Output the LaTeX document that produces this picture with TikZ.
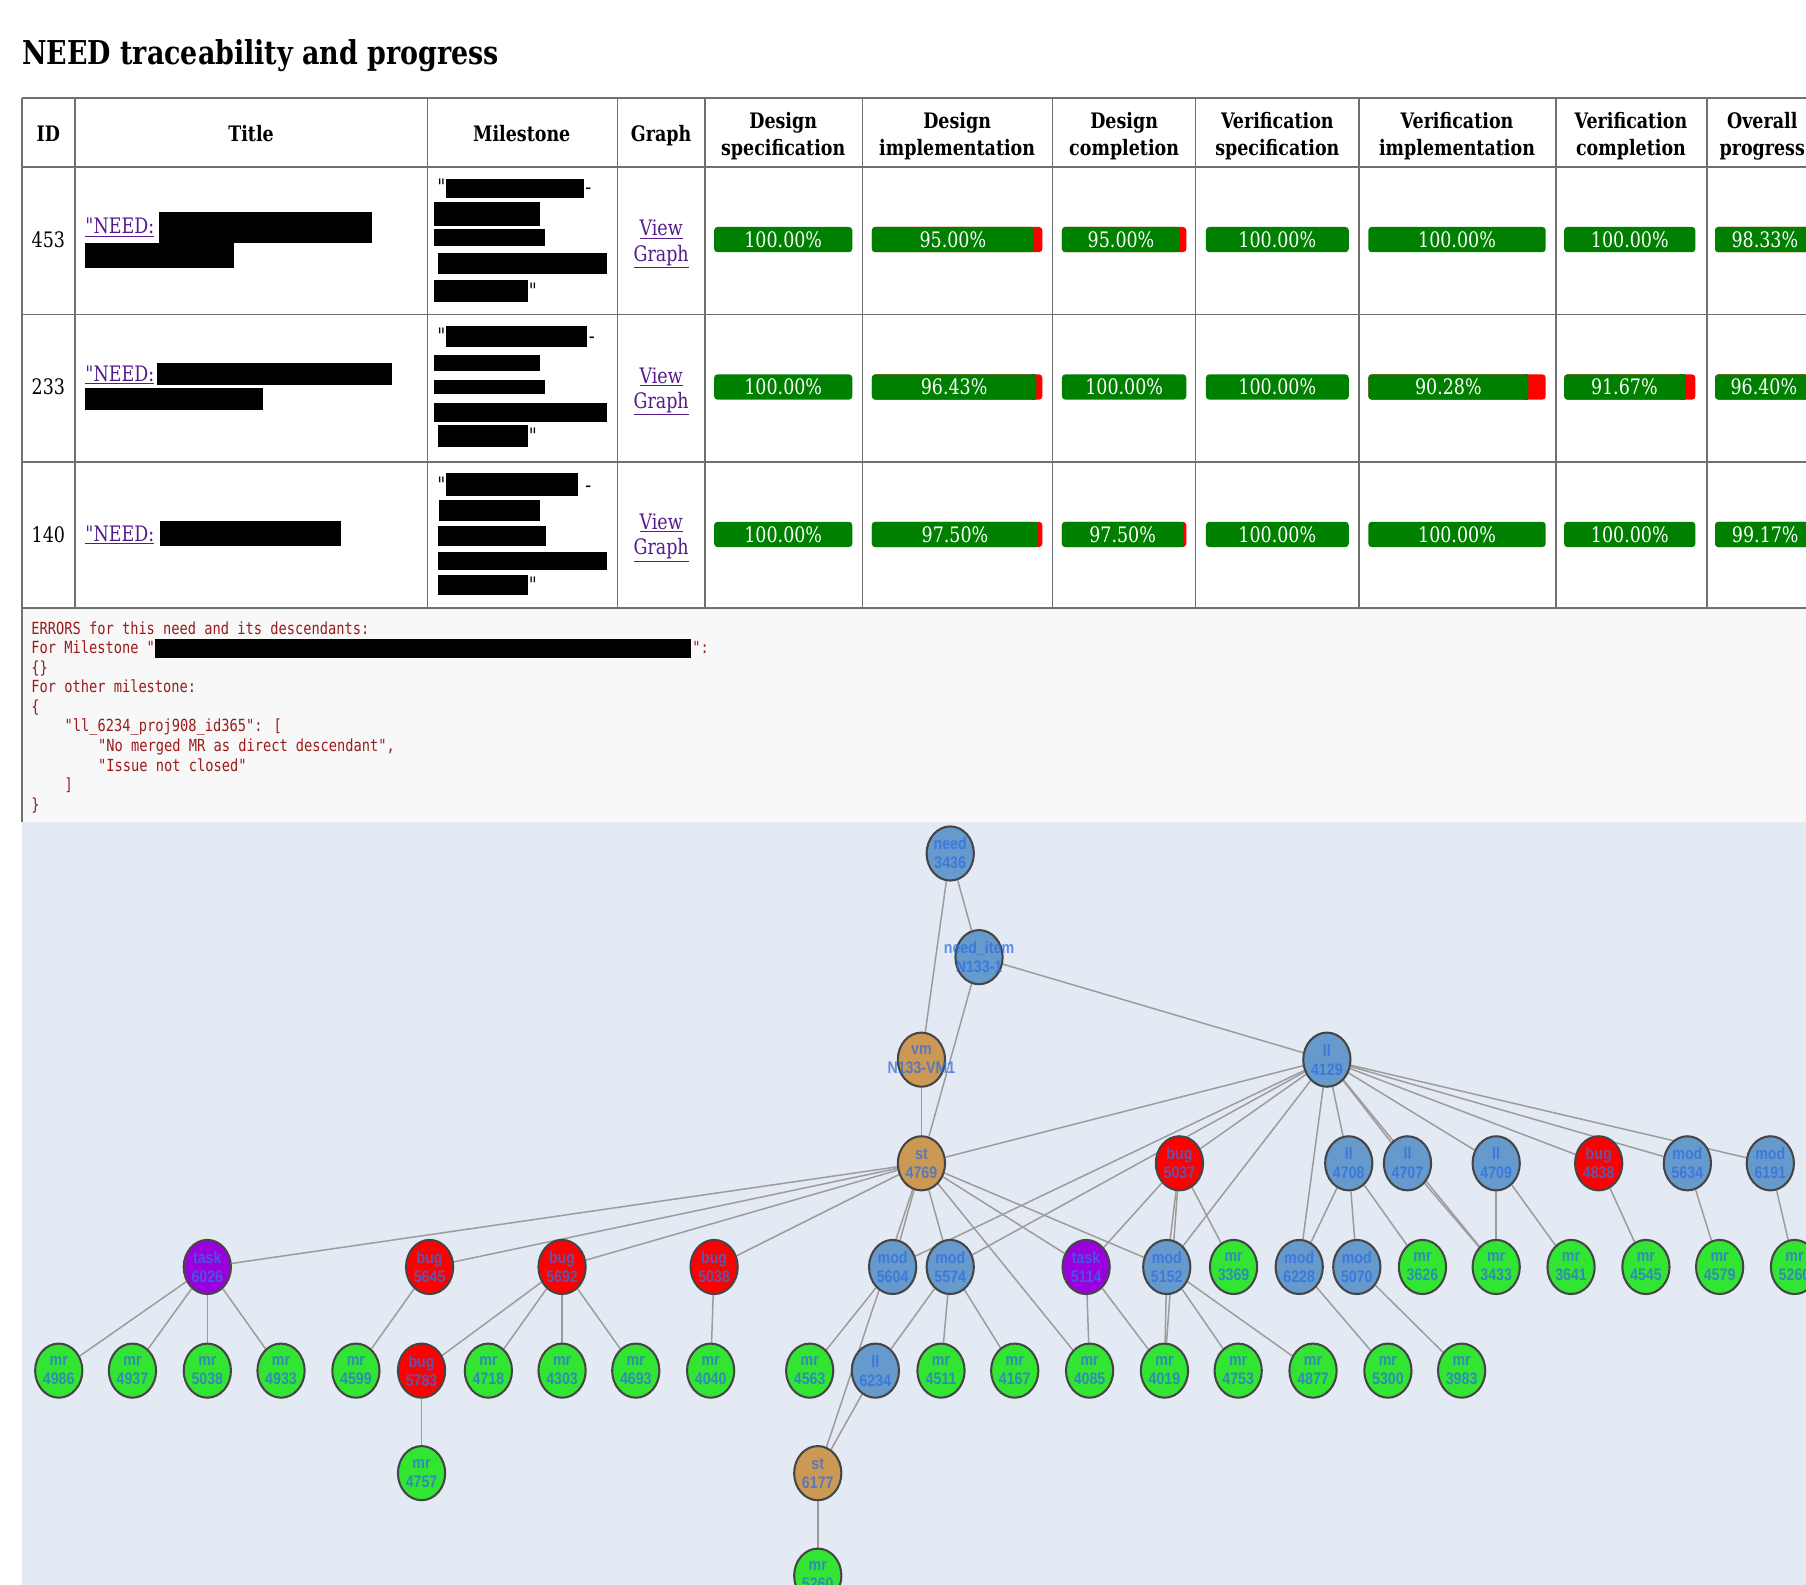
\documentclass[tikz,border=0pt]{standalone}
\usepackage{fontspec}
\setmainfont{DejaVu Serif}[FakeStretch=0.82, Ligatures=TeXOff]
\newfontfamily\codefont{DejaVu Sans Mono}[FakeStretch=0.82, Ligatures=TeXOff]
\newfontfamily\graphfont{Liberation Sans}[FakeStretch=0.85]
\usetikzlibrary{shapes.geometric}

\definecolor{rulegray}{HTML}{707070}
\definecolor{linkpurple}{HTML}{551A8B}
\definecolor{bargreen}{HTML}{008000}
\definecolor{barred}{HTML}{FF0000}
\definecolor{errbg}{HTML}{F8F8F8}
\definecolor{errtext}{HTML}{9A1B1B}
\definecolor{graphbg}{HTML}{E4EAF4}
\definecolor{edgegray}{HTML}{9C9C9C}
\definecolor{nodeline}{HTML}{454545}
\definecolor{labelblue}{HTML}{2F6FE0}
\definecolor{fillblue}{HTML}{6699CC}
\definecolor{filltan}{HTML}{CC9955}
\definecolor{fillred}{HTML}{FF0000}
\definecolor{fillgreen}{HTML}{33E533}
\definecolor{fillpurple}{HTML}{9900DD}

\pgfdeclarelayer{bg}
\pgfdeclarelayer{edges}
\pgfsetlayers{bg,edges,main}

\newcommand\bodysize{\fontsize{18.5}{22}\selectfont}

% progress bar filled completely
\newcommand\fullbar[4]{%
  \fill[bargreen, rounded corners=3pt] (#2,#4-11) rectangle (#3,#4+11);
  \node[bartext] (#1) at ({(#2+#3)/2},#4) {100.00\%};}
% progress bar with a red remainder on the right
\newcommand\partbar[6]{%
  \pgfmathsetmacro\pbx{#2+(#3-#2)*#5}
  \fill[barred, rounded corners=3pt] (#2,#4-11) rectangle (#3,#4+11);
  \fill[bargreen, rounded corners=3pt] (#2,#4-11) rectangle (\pbx,#4+11);
  \fill[bargreen] (\pbx-4,#4-11) rectangle (\pbx,#4+11);
  \node[bartext] (#1) at ({(#2+\pbx)/2},#4) {#6};}
% graph vertex: name, x, y, fill, kind, number
\newcommand\gn[6]{\node[gvertex,fill=#4,label={[glabel]center:{#5\\#6}}] (#1) at (#2,#3) {};}

\begin{document}
\begin{tikzpicture}[x=1pt,y=-1pt,
  every node/.style={inner sep=0pt},
  hdr/.style={font=\bfseries\fontsize{18.5}{23}\selectfont, align=center},
  body/.style={font=\bodysize},
  link/.style={font=\bodysize, text=linkpurple},
  bartext/.style={font=\bodysize, text=white},
  code/.style={font=\codefont\fontsize{14.5}{17}\selectfont, text=errtext, anchor=base west},
  hrule/.style={draw=rulegray, line width=1.6pt},
  vrule/.style={draw=rulegray, line width=1.1pt},
  gvertex/.style={ellipse, draw=nodeline, line width=1.8pt, minimum width=41pt, minimum height=47pt},
  glabel/.style={align=center, text=labelblue, text opacity=0.75, font=\graphfont\bfseries\fontsize{14.5}{16.5}\selectfont},
  gedge/.style={draw=edgegray, line width=1.3pt}]
\useasboundingbox (0,0) rectangle (1568,1376);
\begin{pgfonlayer}{bg}
\fill[white] (0,0) rectangle (1568,1376);
\fill[graphbg] (19,714) rectangle (1600,1400);
\end{pgfonlayer}

% heading
\node[anchor=base west, font=\bfseries\fontsize{28.5}{32}\selectfont] (title) at (19,56) {NEED traceability and progress};

% table rules
\foreach \y in {85,145,273,401,528} \draw[hrule] (19,\y) -- (1600,\y);
\foreach \x in {19,65,371,536,612,749,914,1038,1180,1351,1482} \draw[vrule] (\x,85) -- (\x,528);

% header cells
\node[hdr, anchor=base] (hid) at (42,123) {ID};
\node[hdr, anchor=base] (htitle) at (218,123) {Title};
\node[hdr, anchor=base] (hmile) at (453,123) {Milestone};
\node[hdr, anchor=base] (hgraph) at (574,123) {Graph};
\node[hdr, anchor=north] (hdspec) at (680,97.5) {Design\\specification};
\node[hdr, anchor=north] (hdimpl) at (831,97.5) {Design\\implementation};
\node[hdr, anchor=north] (hdcomp) at (976,97.5) {Design\\completion};
\node[hdr, anchor=north] (hvspec) at (1109,97.5) {Verification\\specification};
\node[hdr, anchor=north] (hvimpl) at (1265,97.5) {Verification\\implementation};
\node[hdr, anchor=north] (hvcomp) at (1416,97.5) {Verification\\completion};
\node[hdr, anchor=north] (hover) at (1530,97.5) {Overall\\progress};

% ID column
\node[body] (id1) at (42,208) {453};
\node[body] (id2) at (42,336) {233};
\node[body] (id3) at (42,464) {140};

% title column
\node[link, anchor=base west] (t1) at (74,203) {\underline{"NEED:}};
\node[link, anchor=base west] (t2) at (74,331) {\underline{"NEED:}};
\node[link, anchor=base west] (t3) at (74,470) {\underline{"NEED:}};
\fill[black] (138,184) rectangle (323,211);
\fill[black] (74,211) rectangle (203,233);
\fill[black] (136,315) rectangle (340,334);
\fill[black] (74,337) rectangle (228,356);
\fill[black] (139,452) rectangle (296,474);

% milestone column
\node[body, anchor=base east] (m1a) at (387,169) {"};
\node[body, anchor=base west] (m1b) at (508,169) {-};
\node[body, anchor=base west] (m1c) at (459,259) {"};
\fill[black] (387,155) rectangle (507,172);
\fill[black] (377,175) rectangle (469,196);
\fill[black] (377,199) rectangle (473,214);
\fill[black] (380,220) rectangle (527,238);
\fill[black] (377,243) rectangle (458,262);
\node[body, anchor=base east] (m2a) at (387,298) {"};
\node[body, anchor=base west] (m2b) at (511,298) {-};
\node[body, anchor=base west] (m2c) at (459,385) {"};
\fill[black] (387,283) rectangle (510,301);
\fill[black] (377,308) rectangle (469,322);
\fill[black] (377,330) rectangle (473,342);
\fill[black] (377,350) rectangle (527,366);
\fill[black] (380,369) rectangle (458,388);
\node[body, anchor=base east] (m3a) at (387,428) {"};
\node[body, anchor=base west] (m3b) at (508,428) {-};
\node[body, anchor=base west] (m3c) at (459,514) {"};
\fill[black] (387,411) rectangle (502,431);
\fill[black] (381,434) rectangle (469,452);
\fill[black] (380,457) rectangle (474,474);
\fill[black] (380,479) rectangle (527,495);
\fill[black] (380,499) rectangle (458,517);

% graph links
\node[link, anchor=north, align=center] (g1) at (574,191) {\underline{View}\\\underline{Graph}};
\node[link, anchor=north, align=center] (g2) at (574,319) {\underline{View}\\\underline{Graph}};
\node[link, anchor=north, align=center] (g3) at (574,446) {\underline{View}\\\underline{Graph}};

% progress bars, row 453
\fullbar{b11}{620}{740}{208}
\partbar{b12}{757}{905}{208}{0.95}{95.00\%}
\partbar{b13}{922}{1030}{208}{0.95}{95.00\%}
\fullbar{b14}{1047}{1171}{208}
\fullbar{b15}{1188}{1342}{208}
\fullbar{b16}{1358}{1472}{208}
\partbar{b17}{1489}{1577}{208}{0.9833}{98.33\%}
% row 233
\fullbar{b21}{620}{740}{336}
\partbar{b22}{757}{905}{336}{0.9643}{96.43\%}
\fullbar{b23}{922}{1030}{336}
\fullbar{b24}{1047}{1171}{336}
\partbar{b25}{1188}{1342}{336}{0.9028}{90.28\%}
\partbar{b26}{1358}{1472}{336}{0.9167}{91.67\%}
\partbar{b27}{1489}{1577}{336}{0.964}{96.40\%}
% row 140
\fullbar{b31}{620}{740}{464}
\partbar{b32}{757}{905}{464}{0.975}{97.50\%}
\partbar{b33}{922}{1030}{464}{0.975}{97.50\%}
\fullbar{b34}{1047}{1171}{464}
\fullbar{b35}{1188}{1342}{464}
\fullbar{b36}{1358}{1472}{464}
\partbar{b37}{1489}{1577}{464}{0.9917}{99.17\%}

% error report
\fill[errbg] (19,529) rectangle (1600,714);
\draw[vrule] (19,528) -- (19,714);
\node[code] (e1) at (27,550.5) {ERRORS for this need and its descendants:};
\node[code] (e2) at (27,567.5) {For Milestone "};
\fill[black] (135,555) rectangle (600,571);
\node[code] (e2b) at (601,567.5) {":};
\node[code] (e3) at (27,584.5) {\{\}};
\node[code] (e4) at (27,601.5) {For other milestone:};
\node[code] (e5) at (27,618.5) {\{};
\node[code] (e6) at (56,635.5) {"ll\_6234\_proj908\_id365": [};
\node[code] (e7) at (85,652.5) {"No merged MR as direct descendant",};
\node[code] (e8) at (85,669.5) {"Issue not closed"};
\node[code] (e9) at (56,686.5) {]};
\node[code] (e10) at (27,703.5) {\}};

% dependency graph
\gn{need3436}{825}{741}{fillblue}{need}{3436}
\gn{needitem}{850}{831}{fillblue}{need\_item}{N133-1}
\gn{vm1}{800}{920}{filltan}{vm}{N133-VM1}
\gn{ll4129}{1152}{920}{fillblue}{ll}{4129}

\gn{st4769}{800}{1010}{filltan}{st}{4769}
\gn{bug5037}{1024}{1010}{fillred}{bug}{5037}
\gn{ll4708}{1171}{1010}{fillblue}{ll}{4708}
\gn{ll4707}{1222}{1010}{fillblue}{ll}{4707}
\gn{ll4709}{1299}{1010}{fillblue}{ll}{4709}
\gn{bug4838}{1388}{1010}{fillred}{bug}{4838}
\gn{mod5634}{1465}{1010}{fillblue}{mod}{5634}
\gn{mod6191}{1537}{1010}{fillblue}{mod}{6191}

\gn{task6026}{180}{1100}{fillpurple}{task}{6026}
\gn{bug5645}{373}{1100}{fillred}{bug}{5645}
\gn{bug5692}{488}{1100}{fillred}{bug}{5692}
\gn{bug5038}{620}{1100}{fillred}{bug}{5038}
\gn{mod5604}{775}{1100}{fillblue}{mod}{5604}
\gn{mod5574}{825}{1100}{fillblue}{mod}{5574}
\gn{task5114}{943}{1100}{fillpurple}{task}{5114}
\gn{mod5152}{1013}{1100}{fillblue}{mod}{5152}
\gn{mr3369}{1071}{1100}{fillgreen}{mr}{3369}
\gn{mod6228}{1128}{1100}{fillblue}{mod}{6228}
\gn{mod5070}{1178}{1100}{fillblue}{mod}{5070}
\gn{mr3626}{1235}{1100}{fillgreen}{mr}{3626}
\gn{mr3433}{1299}{1100}{fillgreen}{mr}{3433}
\gn{mr3641}{1364}{1100}{fillgreen}{mr}{3641}
\gn{mr4545}{1429}{1100}{fillgreen}{mr}{4545}
\gn{mr4579}{1493}{1100}{fillgreen}{mr}{4579}
\gn{mrR5260}{1558}{1100}{fillgreen}{mr}{5260}

\gn{mr4986}{51}{1190}{fillgreen}{mr}{4986}
\gn{mr4937}{115}{1190}{fillgreen}{mr}{4937}
\gn{mr5038}{180}{1190}{fillgreen}{mr}{5038}
\gn{mr4933}{244}{1190}{fillgreen}{mr}{4933}
\gn{mr4599}{309}{1190}{fillgreen}{mr}{4599}
\gn{bug5783}{366}{1190}{fillred}{bug}{5783}
\gn{mr4718}{424}{1190}{fillgreen}{mr}{4718}
\gn{mr4303}{488}{1190}{fillgreen}{mr}{4303}
\gn{mr4693}{552}{1190}{fillgreen}{mr}{4693}
\gn{mr4040}{617}{1190}{fillgreen}{mr}{4040}
\gn{mr4563}{703}{1190}{fillgreen}{mr}{4563}
\gn{ll6234}{760}{1190}{fillblue}{ll}{6234}
\gn{mr4511}{817}{1190}{fillgreen}{mr}{4511}
\gn{mr4167}{881}{1190}{fillgreen}{mr}{4167}
\gn{mr4085}{946}{1190}{fillgreen}{mr}{4085}
\gn{mr4019}{1011}{1190}{fillgreen}{mr}{4019}
\gn{mr4753}{1075}{1190}{fillgreen}{mr}{4753}
\gn{mr4877}{1140}{1190}{fillgreen}{mr}{4877}
\gn{mr5300}{1205}{1190}{fillgreen}{mr}{5300}
\gn{mr3983}{1269}{1190}{fillgreen}{mr}{3983}

\gn{mr4757}{366}{1279}{fillgreen}{mr}{4757}
\gn{st6177}{710}{1279}{filltan}{st}{6177}
\gn{mr5260}{710}{1368}{fillgreen}{mr}{5260}

\begin{pgfonlayer}{edges}
\foreach \a/\b in {need3436/needitem, need3436/vm1, needitem/ll4129, needitem/st4769, vm1/st4769,
  ll4129/st4769, ll4129/mod5604, ll4129/mod5574, ll4129/bug5037, ll4129/mod5152, ll4129/mod6228,
  ll4129/ll4708, ll4129/ll4707, ll4129/mr3433, ll4129/ll4709, ll4129/bug4838, ll4129/mod5634, ll4129/mod6191,
  st4769/task6026, st4769/bug5645, st4769/bug5692, st4769/bug5038, st4769/mod5604, st4769/st6177,
  st4769/mod5574, st4769/mr4085, st4769/task5114, st4769/mod5152,
  bug5037/task5114, bug5037/mod5152, bug5037/mr4019, bug5037/mr3369,
  ll4708/mod6228, ll4708/mod5070, ll4708/mr3626, ll4707/mr3433, ll4709/mr3433, ll4709/mr3641,
  bug4838/mr4545, mod5634/mr4579, mod6191/mrR5260,
  task6026/mr4986, task6026/mr4937, task6026/mr5038, task6026/mr4933,
  bug5645/mr4599, bug5692/bug5783, bug5692/mr4718, bug5692/mr4303, bug5692/mr4693,
  bug5783/mr4757, bug5038/mr4040, mod5604/mr4563,
  mod5574/ll6234, mod5574/mr4511, mod5574/mr4167, ll6234/st6177, st6177/mr5260,
  task5114/mr4085, task5114/mr4019, mod5152/mr4019, mod5152/mr4753, mod5152/mr4877,
  mod6228/mr5300, mod5070/mr3983}
  \draw[gedge] (\a) -- (\b);
\end{pgfonlayer}
\end{tikzpicture}
\end{document}
